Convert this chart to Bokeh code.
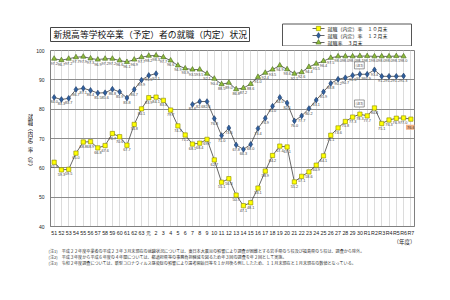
from bokeh.plotting import figure
from bokeh.layouts import column, row
from bokeh.models import FactorRange, Range1d, Label, ColumnDataSource, FixedTicker
from bokeh.core.properties import value
from bokeh.embed import file_html
from bokeh.resources import INLINE

NaN = float("nan")
CJK = "Noto Sans CJK JP"
LAT = "Liberation Sans"

years = ["51", "52", "53", "54", "55", "56", "57", "58", "59", "60", "61", "62", "63", "元",
         "2", "3", "4", "5", "6", "7", "8", "9", "10", "11", "12", "13", "14", "15", "16",
         "17", "18", "19", "20", "21", "22", "23", "24", "25", "26", "27", "28", "29", "30",
         "R1", "R2", "R3", "R4", "R5", "R6", "R7"]

# 就職（内定）率 10月末
oct_rate = [61.9, 59.3, 59.5, 65.0, 68.8, 68.9, 66.8, 67.6, 71.7, 70.6, 67.7, 74.8, 80.1, 83.9,
            84.1, 83.0, 79.7, 74.3, 71.2, 68.1, 68.4, 69.7, 62.7, 55.1, 56.3, 50.7, 47.1, 48.1, 53.1,
            58.9, 64.2, 67.4, 67.1, 55.2, 57.1, 58.6, 60.9, 64.1, 71.1, 73.6, 75.8, 77.3, 78.3,
            77.7, 80.4, 75.1, 76.3, 76.9, 77.0, 76.6]
# 就職（内定）率 12月末
dec_rate = [84.0, 83.3, 83.7, 86.7, 87.1, 86.4, 85.5, 85.6, 86.8, 85.9, 83.8, 86.7, 89.9, 91.5,
            92.1, NaN, NaN, NaN, NaN, 81.6, 82.6, 82.6, 76.8, 71.0, 73.6, 67.8, 66.3, 68.0, 73.4,
            76.9, 81.0, 84.0, 82.1, 76.0, 77.7, 80.2, 83.1, 85.9, 88.8, 90.2, 90.7, 91.5, 91.9,
            91.9, 93.4, 91.2, 91.2, 91.2, 91.3, NaN]
# 就職率 3月末
mar_rate = [97.2, 96.7, 97.2, 97.7, 97.9, 97.3, 96.9, 97.2, 97.2, 96.6, 96.1, 96.9, 97.7, 98.2,
            98.3, 97.7, 96.6, 94.9, 93.9, 93.5, 93.5, 92.1, 90.4, 88.5, 89.0, 86.8, 87.2, 88.6, 91.0,
            92.4, 93.5, 94.9, 93.6, 92.1, 92.6, 94.4, 95.5, 96.4, 97.5, 98.0, 98.0, 98.0, 98.1,
            98.1, 98.0, 98.0, 98.0, 98.1, 98.0, NaN]

y_ticks = [40, 50, 60, 70, 80, 90, 100]

title_text = "新規高等学校卒業（予定）者の就職（内定）状況"
legend_labels = ["就職（内定）率　１０月末", "就職（内定）率　１２月末", "就職率　３月末"]
y_title_chars = ["就", "職", "︵", "内", "定", "︶", "率", "︵", "％", "︶"]
x_title = "（年度）"
notes = [
    "(注1)　平成２２年度卒業者の平成２３年３月末現在の就職状況については、東日本大震災の影響により調査が困難とする岩手県の５校及び福島県の５校は、調査から除外。",
    "(注2)　平成３年度から平成６年度の４年間については、都道府県等の事務負担軽減を図るため年３回の調査を年２回として実施。",
    "(注3)　令和２年度調査については、新型コロナウイルス感染症の影響により選考開始日等を１か月後ろ倒ししたため、１１月末現在と１月末現在の数値となっている。",
]

LINE_COL = "#404040"
STYLES = [  # marker, fill, edge, size
    ("square", "#ffff00", "#8a8a00", 4.3),
    ("diamond", "#2f5f9e", "#1c3a66", 5.8),
    ("triangle", "#8dbb3a", "#4a6b1e", 5.2),
]

W, H_TOP, H_MAIN, H_BOT = 450, 46, 192, 62
W_YT = 33  # strip holding the vertical y-axis title


def blank_fig(w, h):
    f = figure(width=w, height=h, x_range=Range1d(0, w), y_range=Range1d(0, h),
               output_backend="svg", toolbar_location=None,
               x_axis_location=None, y_axis_location=None,
               min_border=0, min_border_left=0, min_border_right=0,
               min_border_top=0, min_border_bottom=0)
    f.grid.visible = False
    f.outline_line_color = None
    f.background_fill_color = "white"
    f.border_fill_color = "white"
    return f


def txt(f, x, y, t, size, color="#222222", align="left", font=CJK):
    f.text(x=[x], y=[y], text=[t], text_font=value(font), text_font_size=size,
           text_color=color, text_align=align, text_baseline="middle")


# ---------------- header: title box + legend ----------------
top = blank_fig(W, H_TOP)
top.quad(left=[50], right=[249], top=[H_TOP - 27], bottom=[H_TOP - 41],
         fill_color="white", line_color="#444444", line_width=1)
txt(top, 53, H_TOP - 34, title_text, "8.8px", "#111111")
top.quad(left=[282], right=[411], top=[H_TOP - 23.5], bottom=[H_TOP - 45.5],
         fill_color="white", line_color="#555555", line_width=1)
row_y = [H_TOP - 28, H_TOP - 35, H_TOP - 42]
for lab, (mk, fc, ec, sz), ry in zip(legend_labels, STYLES, row_y):
    top.line(x=[312, 324], y=[ry, ry], line_color=LINE_COL, line_width=0.8)
    top.scatter(x=[318], y=[ry], marker=mk, size=sz, fill_color=fc, line_color=ec,
                line_width=0.6)
    txt(top, 327, ry, lab, "5px")

# ---------------- y-axis title strip ----------------
yt = blank_fig(W_YT, H_MAIN)
for i, ch in enumerate(y_title_chars):
    page_y = 119 + i * 6.0
    txt(yt, 30, H_MAIN - (page_y - H_TOP), ch, "5.5px", align="center")

# ---------------- main chart ----------------
p = figure(width=W - W_YT, height=H_MAIN,
           x_range=FactorRange(factors=years, range_padding=0),
           y_range=Range1d(40, 100),
           output_backend="svg", toolbar_location=None,
           min_border_left=49 - W_YT, min_border_right=36, min_border_top=4,
           min_border_bottom=11)

p.outline_line_color = "#808080"
p.background_fill_color = "white"
p.border_fill_color = "white"
p.xgrid.grid_line_color = "#dcdcdc"
p.ygrid.grid_line_color = "#8c8c8c"
p.yaxis.ticker = FixedTicker(ticks=y_ticks)

for ax in (p.xaxis, p.yaxis):
    ax.axis_line_color = "#808080"
    ax.major_tick_line_color = None
    ax.minor_tick_line_color = None
    ax.major_tick_out = 0
    ax.major_tick_in = 0
    ax.minor_tick_out = 0
    ax.major_label_text_color = "#222222"
    ax.major_label_text_font = LAT
p.xaxis.major_label_text_font_size = "5.3px"
p.xaxis.major_label_standoff = 3
p.yaxis.major_label_text_font_size = "5px"
p.yaxis.major_label_standoff = 6

for vals, (mk, fc, ec, sz) in zip([oct_rate, dec_rate, mar_rate], STYLES):
    src = ColumnDataSource(dict(x=years, y=vals))
    p.line("x", "y", source=src, line_color=LINE_COL, line_width=0.8)
    p.scatter("x", "y", source=src, marker=mk, size=sz, fill_color=fc, line_color=ec,
              line_width=0.6)


def add_value_labels(vals, skip_last=False):
    xs, ys, ts = [], [], []
    for i, (c, v) in enumerate(zip(years, vals)):
        if v != v:
            continue
        if skip_last and i == len(years) - 1:
            continue
        xs.append(c)
        ys.append(v)
        ts.append(f"{v:.1f}")
    src = ColumnDataSource(dict(x=xs, y=ys, t=ts))
    p.text("x", "y", text="t", source=src, text_font=value(LAT),
           text_font_size="3.8px", text_color="#444444", text_align="center",
           text_baseline="top", y_offset=3)


add_value_labels(oct_rate, skip_last=True)
add_value_labels(dec_rate)
add_value_labels(mar_rate)

# highlighted latest value
p.add_layout(Label(x=len(years) - 0.5, y=oct_rate[-1], text=f"{oct_rate[-1]:.1f}",
                   y_offset=-8, text_align="center", text_baseline="middle",
                   text_font=LAT, text_font_size="4px", text_color="#333333",
                   background_fill_color="#f4b183", padding=1))

# (注3) markers at R2
r2 = years.index("R2")
for yv in (oct_rate[r2], dec_rate[r2]):
    p.add_layout(Label(x=r2 + 0.5, y=yv, x_offset=-20, y_offset=1, text="(注3)",
                       text_align="left", text_baseline="bottom",
                       text_font=CJK, text_font_size="3.5px", text_color="#333333",
                       background_fill_color="white", border_line_color="#555555",
                       border_line_width=0.6, padding=1))

# ---------------- footer: (年度) + notes ----------------
bot = blank_fig(W, H_BOT)
txt(bot, 404, H_BOT - 3.5, x_title, "5.5px", align="center")
for t, yd in zip(notes, [12.5, 18.0, 24.0]):
    txt(bot, 48, H_BOT - yd, t, "4.1px", "#333333")

layout = column(top, row(yt, p, spacing=0), bot, spacing=0)
open("out.html", "w").write(file_html(layout, INLINE))
